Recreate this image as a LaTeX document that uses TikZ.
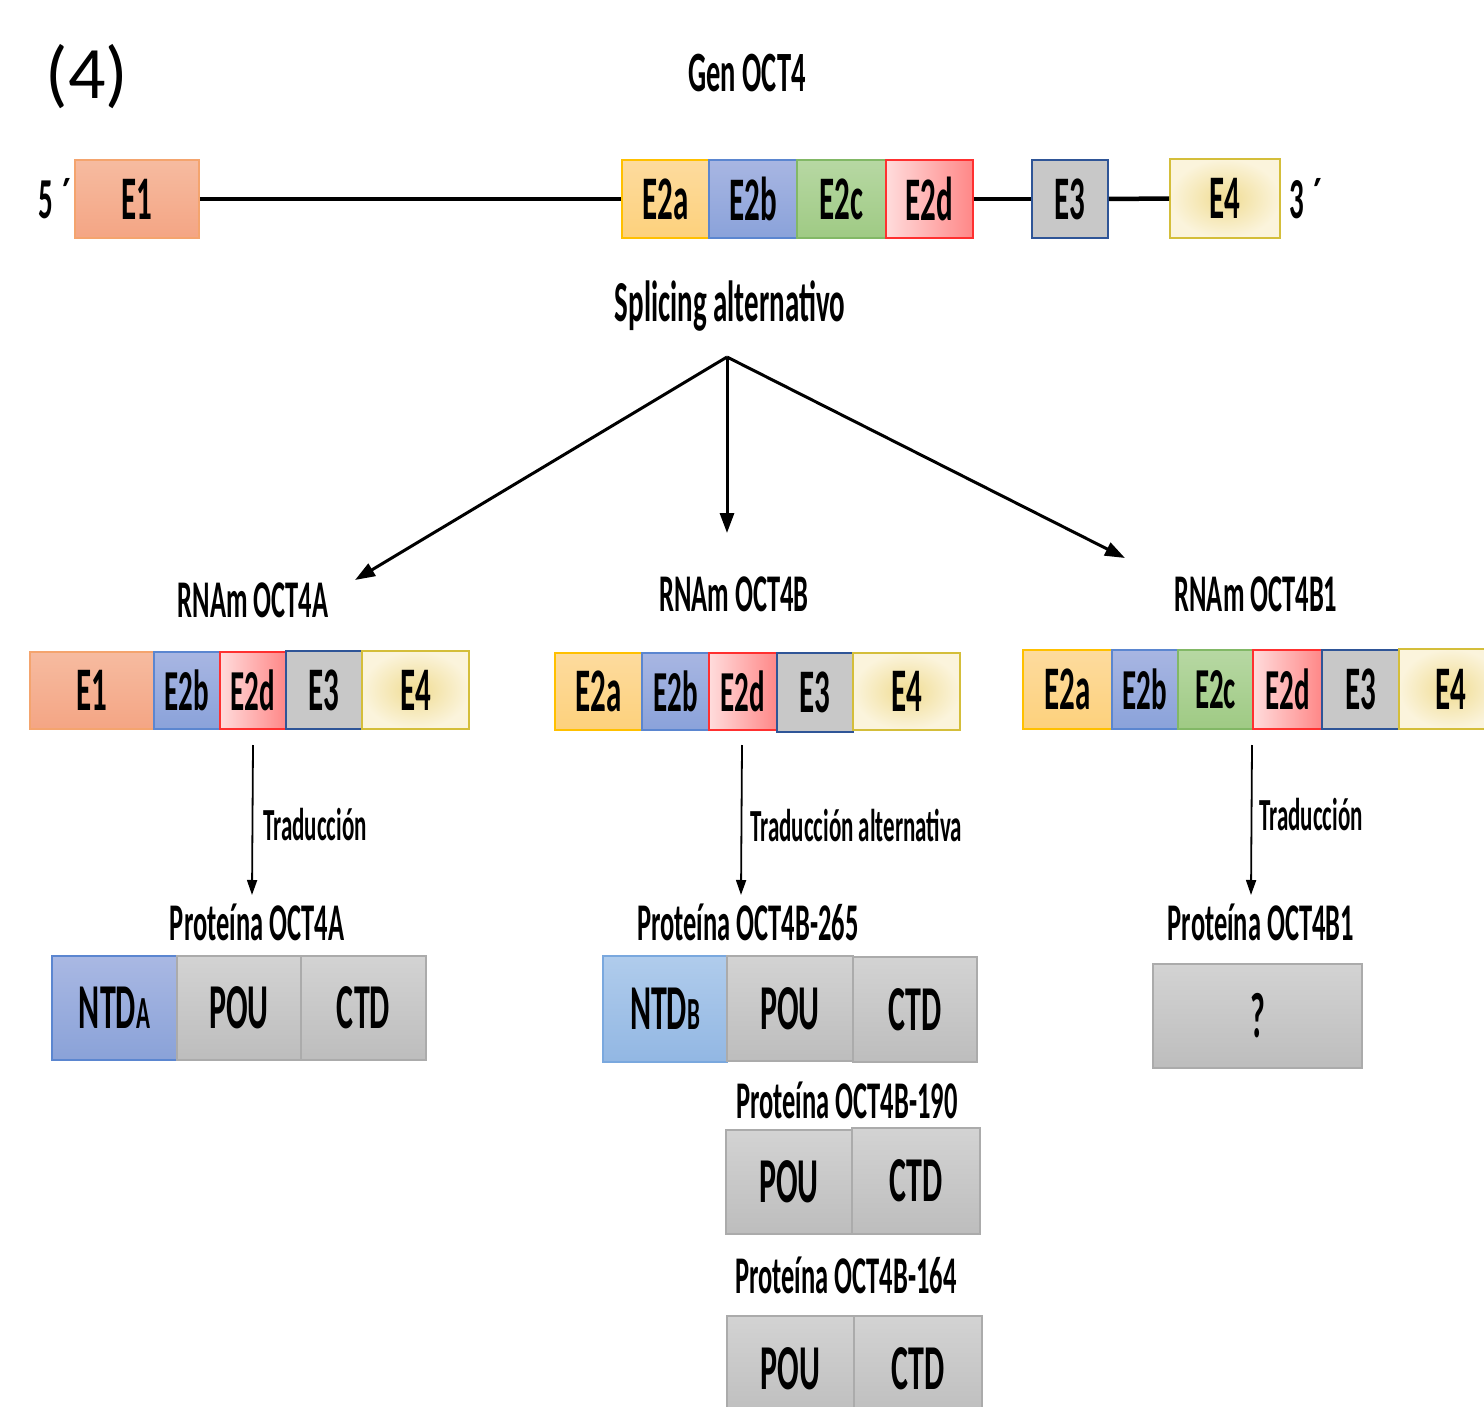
\documentclass[tikz,border=0pt]{standalone}
\usepackage{fontspec}
\newfontfamily\cnd[FakeStretch=0.5]{Carlito}
\newfontfamily\calnorm{Carlito}
\usetikzlibrary{arrows.meta}
\newcommand\myfs[1]{\fontsize{#1}{#1}\selectfont}
\newcommand\bx[7]{\node[#1, minimum width={#5-#3}, minimum height={#6-#4}] (#2) at ({(#3+#5)/2},{(#4+#6)/2}) {#7};}
\definecolor{eOneB}{HTML}{F4A46E}
\definecolor{eOneT}{HTML}{F6BBA0}
\definecolor{eOneBo}{HTML}{F4A584}
\definecolor{eAB}{HTML}{FFC000}
\definecolor{eAT}{HTML}{FDDB9E}
\definecolor{eABo}{HTML}{FDD17C}
\definecolor{eBB}{HTML}{5B86D0}
\definecolor{eBT}{HTML}{A8B6E2}
\definecolor{eBBo}{HTML}{8AA2DA}
\definecolor{eCB}{HTML}{82B866}
\definecolor{eCT}{HTML}{B7D8A3}
\definecolor{eCBo}{HTML}{9FCA84}
\definecolor{eDB}{HTML}{FF3030}
\definecolor{eDL}{HTML}{FFDCDC}
\definecolor{eDR}{HTML}{FF8787}
\definecolor{eThB}{HTML}{2F5597}
\definecolor{eThF}{HTML}{C8C8C8}
\definecolor{eFB}{HTML}{D4BE3A}
\definecolor{eFI}{HTML}{F0DC92}
\definecolor{eFO}{HTML}{FBF4DC}
\definecolor{grB}{HTML}{ABABAB}
\definecolor{grT}{HTML}{D3D3D3}
\definecolor{grBo}{HTML}{BDBDBD}
\definecolor{naT}{HTML}{A9B8E3}
\definecolor{naBo}{HTML}{8AA2D8}
\definecolor{ntBB}{HTML}{7AA8DE}
\definecolor{nbT}{HTML}{B0CCEC}
\definecolor{nbBo}{HTML}{92B7E3}
\begin{document}
\begin{tikzpicture}[x=1pt,y=-1pt,
  box/.style={draw, line width=1.6pt, inner sep=0pt, font=\cnd\bfseries\myfs{62}},
  sbox/.style={box, font=\cnd\bfseries\myfs{58}},
  dbox/.style={box, line width=1.2pt, font=\cnd\bfseries\myfs{64}},
  exOne/.style={draw=eOneB, top color=eOneT, bottom color=eOneBo},
  exA/.style={draw=eAB, top color=eAT, bottom color=eABo},
  exB/.style={draw=eBB, top color=eBT, bottom color=eBBo},
  exC/.style={draw=eCB, top color=eCT, bottom color=eCBo},
  exD/.style={draw=eDB, left color=eDL, right color=eDR},
  exThree/.style={draw=eThB, fill=eThF},
  exFour/.style={draw=eFB, inner color=eFI, outer color=eFO},
  dGray/.style={draw=grB, top color=grT, bottom color=grBo},
  dNA/.style={draw=eBB, top color=naT, bottom color=naBo},
  dNB/.style={draw=ntBB, top color=nbT, bottom color=nbBo},
  title/.style={font=\cnd\bfseries\myfs{57}, inner sep=0pt},
  lbl/.style={font=\cnd\bfseries\myfs{53}, inner sep=0pt},
  tlbl/.style={font=\cnd\bfseries\myfs{46}, inner sep=0pt, anchor=west},
  bigarrow/.style={line width=3pt, -{Triangle[length=20pt,width=14pt]}},
  tarrow/.style={line width=1.8pt, -{Triangle[length=15pt,width=10pt]}},
  gline/.style={line width=4.5pt}
]
\useasboundingbox (0,0) rectangle (1484,1407);
\clip (0,0) rectangle (1484,1407);

% heading
\node[font=\calnorm\myfs{74}, inner sep=0pt] (num) at (87,77) {(4)};
\node[title] (gen) at (747,73) {Gen OCT4};

% gene
\node[font=\cnd\bfseries\myfs{58}, inner sep=0pt] (five) at (55,199) {5\,´};
\bx{box,exOne}{gE1}{75}{160}{199}{238}{E1}
\bx{box,exA}{gE2a}{622}{160}{709}{238}{E2a}
\bx{box,exB}{gE2b}{709}{160}{797}{238}{E2b}
\bx{box,exC}{gE2c}{797}{160}{886}{238}{E2c}
\bx{box,exD}{gE2d}{886}{160}{973}{238}{E2d}
\bx{box,exThree}{gE3}{1032}{160}{1108}{238}{E3}
\bx{box,exFour}{gE4}{1170}{159}{1280}{238}{E4}
\node[font=\cnd\bfseries\myfs{58}, inner sep=0pt] (three) at (1306,199) {3\,´};
\draw[gline] (gE1.east) -- (gE2a.west);
\draw[gline] (gE2d.east) -- (gE3.west);
\draw[gline] (gE3.east) -- (gE4.west);

% splicing
\node[title, font=\cnd\bfseries\myfs{58}] (spl) at (730,306) {Splicing alternativo};
\coordinate (split) at (727,357);
\coordinate (endA) at (355,580);
\coordinate (endB) at (727,533);
\coordinate (endC) at (1125,558);
\draw[bigarrow] (split) -- (endA);
\draw[bigarrow] (split) -- (endB);
\draw[bigarrow] (split) -- (endC);

% RNA labels
\node[lbl] (rnaA) at (253,600) {RNAm OCT4A};
\node[lbl] (rnaB) at (734,594) {RNAm OCT4B};
\node[lbl] (rnaC) at (1256,594) {RNAm OCT4B1};

% RNA A
\bx{box,exOne}{aE1}{30}{652}{154}{729}{E1}
\bx{sbox,exB}{aE2b}{154}{652}{220}{729}{E2b}
\bx{sbox,exD}{aE2d}{220}{652}{286}{729}{E2d}
\bx{box,exThree}{aE3}{286}{651}{362}{729}{E3}
\bx{box,exFour}{aE4}{362}{651}{469}{729}{E4}

% RNA B
\bx{box,exA}{bE2a}{555}{653}{642}{730}{E2a}
\bx{sbox,exB}{bE2b}{642}{653}{709}{730}{E2b}
\bx{sbox,exD}{bE2d}{709}{653}{777}{730}{E2d}
\bx{box,exThree}{bE3}{777}{653}{853}{732}{E3}
\bx{box,exFour}{bE4}{853}{653}{960}{730}{E4}

% RNA B1
\bx{box,exA}{cE2a}{1023}{650}{1112}{729}{E2a}
\bx{sbox,exB}{cE2b}{1112}{650}{1178}{729}{E2b}
\bx{sbox,exC}{cE2c}{1178}{650}{1253}{729}{E2c}
\bx{sbox,exD}{cE2d}{1253}{650}{1322}{729}{E2d}
\bx{box,exThree}{cE3}{1322}{650}{1399}{729}{E3}
\bx{box,exFour}{cE4}{1399}{649}{1502}{729}{E4}

% translation
\node[lbl] (pA) at (257,922) {Proteína OCT4A};
\node[lbl] (pB) at (748,922) {Proteína OCT4B-265};
\node[lbl] (pC) at (1261,922) {Proteína OCT4B1};
\coordinate (tAs) at (253,745);
\coordinate (tAe) at (252,895);
\coordinate (tBs) at (742,745);
\coordinate (tBe) at (741,895);
\coordinate (tCs) at (1252,745);
\coordinate (tCe) at (1251,895);
\draw[tarrow] (tAs) -- (tAe);
\draw[tarrow] (tBs) -- (tBe);
\draw[tarrow] (tCs) -- (tCe);
\node[tlbl] (trA) at (263,825) {Traducción};
\node[tlbl] (trB) at (750,825) {Traducción alternativa};
\node[tlbl] (trC) at (1259,815) {Traducción};

% protein A
\bx{dbox,dNA}{pAn}{52}{956}{177}{1060}{NTD{\myfs{46}A}}
\bx{dbox,dGray}{pAp}{177}{956}{301}{1060}{POU}
\bx{dbox,dGray}{pAc}{301}{956}{426}{1060}{CTD}

% protein B-265
\bx{dbox,dNB}{pBn}{603}{956}{727}{1062}{NTD{\myfs{46}B}}
\bx{dbox,dGray}{pBp}{727}{956}{853}{1061}{POU}
\bx{dbox,dGray}{pBc}{853}{957}{977}{1062}{CTD}

% protein B-190
\node[lbl] (pD) at (847,1100) {Proteína OCT4B-190};
\bx{dbox,dGray}{pDp}{726}{1130}{852}{1234}{POU}
\bx{dbox,dGray}{pDc}{852}{1128}{980}{1234}{CTD}

% protein B-164
\node[lbl] (pE) at (846,1275) {Proteína OCT4B-164};
\bx{dbox,dGray}{pEp}{727}{1316}{854}{1422}{POU}
\bx{dbox,dGray}{pEc}{854}{1316}{982}{1422}{CTD}

% protein B1
\bx{dbox,dGray}{pCq}{1153}{964}{1362}{1068}{?}
\end{tikzpicture}
\end{document}
